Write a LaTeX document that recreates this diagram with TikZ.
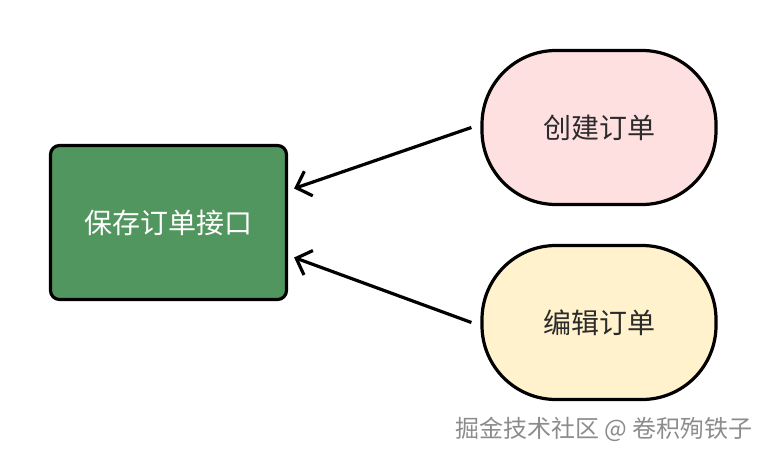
\documentclass[tikz,border=0pt]{standalone}
\usepackage{fontspec}
\setmainfont{Noto Sans CJK SC}
\usepackage{xcolor}
\usepackage{tikz}
\usetikzlibrary{arrows.meta}
\definecolor{ink}{HTML}{2B2B2B}
\definecolor{apigreen}{HTML}{52965F}
\definecolor{rosefill}{HTML}{FFE0E1}
\definecolor{creamfill}{HTML}{FFF2CC}
\definecolor{markgray}{HTML}{8C8C8C}
\tikzset{
  font=\fontsize{28pt}{32pt}\selectfont,
  >={Straight Barb[length=13pt,width=26pt]},
  apibox/.style={
    rectangle, rounded corners=9pt, draw=black, line width=3.2pt,
    fill=apigreen, text=white, minimum width=236pt, minimum height=154pt,
    inner sep=0pt
  },
  pill/.style={
    rectangle, rounded corners=74pt, draw=black, line width=3.2pt,
    text=ink, minimum width=234pt, minimum height=154pt, inner sep=0pt
  },
  pinkpill/.style={pill, fill=rosefill},
  creampill/.style={pill, fill=creamfill},
  call/.style={->, line width=3.2pt, draw=black},
  watermark/.style={font=\fontsize{24pt}{28pt}\selectfont, text=markgray}
}

\begin{document}
\begin{tikzpicture}[x=1pt,y=-1pt]
  \useasboundingbox (0,0) rectangle (768,454);

  \node[apibox]    (api)    at (168.5,222.5) {保存订单接口};
  \node[pinkpill]  (create) at (599,127.5)   {创建订单};
  \node[creampill] (edit)   at (599,322.5)   {编辑订单};

  % both callers point at the interface
  \draw[call] ([xshift=-9pt]create.west) -- ([shift={(6pt,34pt)}]api.east);
  \draw[call] ([xshift=-9pt]edit.west)   -- ([shift={(6pt,-35pt)}]api.east);

  % watermark
  \node[watermark] (wm) at (604,429) {掘金技术社区 @ 卷积殉铁子};
\end{tikzpicture}
\end{document}
